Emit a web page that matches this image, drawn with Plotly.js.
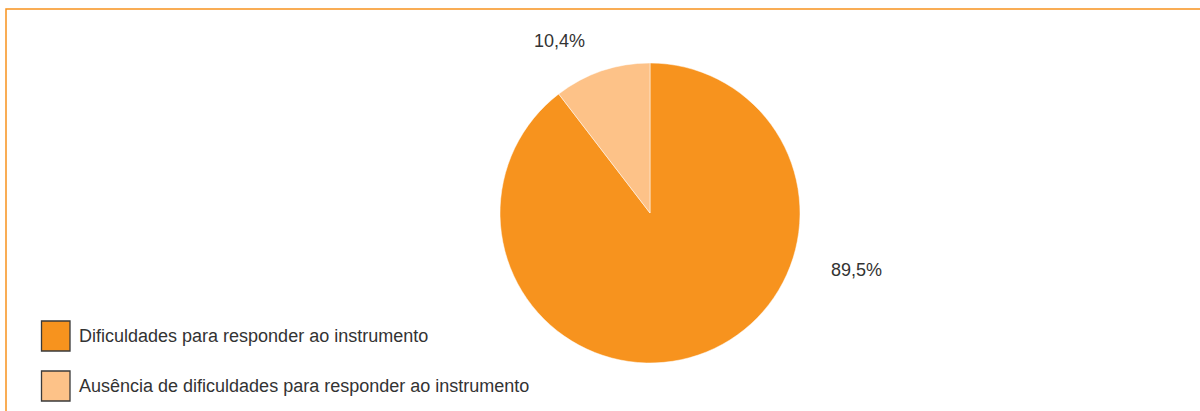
<!DOCTYPE html>
<html>
<head>
<meta charset="utf-8">
<script src="https://cdn.plot.ly/plotly-3.0.1.min.js"></script>
<style>html,body{margin:0;padding:0;background:#fff;}#chart{width:1200px;height:411px;}</style>
</head>
<body>
<div id="chart"></div>
<script>
const labels = ["Dificuldades para responder ao instrumento", "Ausência de dificuldades para responder ao instrumento"];
const values = [89.5, 10.4];
const colors = ["#F7931E", "#FDC288"];

const W = 1200, H = 411;
const px = x => x / W;
const py = y => 1 - y / H;
const FONT = "'Liberation Sans Narrow', 'Liberation Sans', sans-serif";

const fmt = v => v.toFixed(1).replace('.', ',') + '%';

// label anchor positions (layout only)
const labelPos = [[856, 270], [559, 41]];

const annotations = values.map((v, i) => ({
  xref: 'paper', yref: 'paper', x: px(labelPos[i][0]), y: py(labelPos[i][1]),
  text: fmt(v), showarrow: false, xanchor: 'center', yanchor: 'middle',
  font: {family: FONT, size: 18, color: '#333333'}
}));

const shapes = [
  {type: 'rect', xref: 'paper', yref: 'paper', x0: px(6), x1: px(1260), y0: py(9), y1: py(470),
   line: {color: '#F7931E', width: 1.5}, fillcolor: 'rgba(0,0,0,0)', layer: 'below'}
];

labels.forEach((lab, i) => {
  const top = 321 + i * 50;
  shapes.push({type: 'rect', xref: 'paper', yref: 'paper', x0: px(41.5), x1: px(70), y0: py(top), y1: py(top + 30),
    line: {color: '#3a3a3a', width: 1.3}, fillcolor: colors[i]});
  annotations.push({xref: 'paper', yref: 'paper', x: px(77), y: py(top + 15), text: lab, showarrow: false,
    xanchor: 'left', yanchor: 'middle', font: {family: FONT, size: 18, color: '#333333'}});
});

const data = [{
  type: 'pie',
  labels: labels,
  values: values,
  marker: {colors: colors, line: {color: '#ffffff', width: 0.5}},
  sort: false,
  direction: 'clockwise',
  rotation: 0,
  textinfo: 'none',
  hoverinfo: 'label+value',
  showlegend: false,
  domain: {x: [px(500), px(800)], y: [py(363), py(63)]}
}];

const layout = {
  width: W, height: H,
  margin: {l: 0, r: 0, t: 0, b: 0},
  paper_bgcolor: '#ffffff',
  plot_bgcolor: '#ffffff',
  showlegend: false,
  shapes: shapes,
  annotations: annotations,
  font: {family: FONT}
};

Plotly.newPlot('chart', data, layout, {displayModeBar: false, staticPlot: true});
</script>
</body>
</html>
